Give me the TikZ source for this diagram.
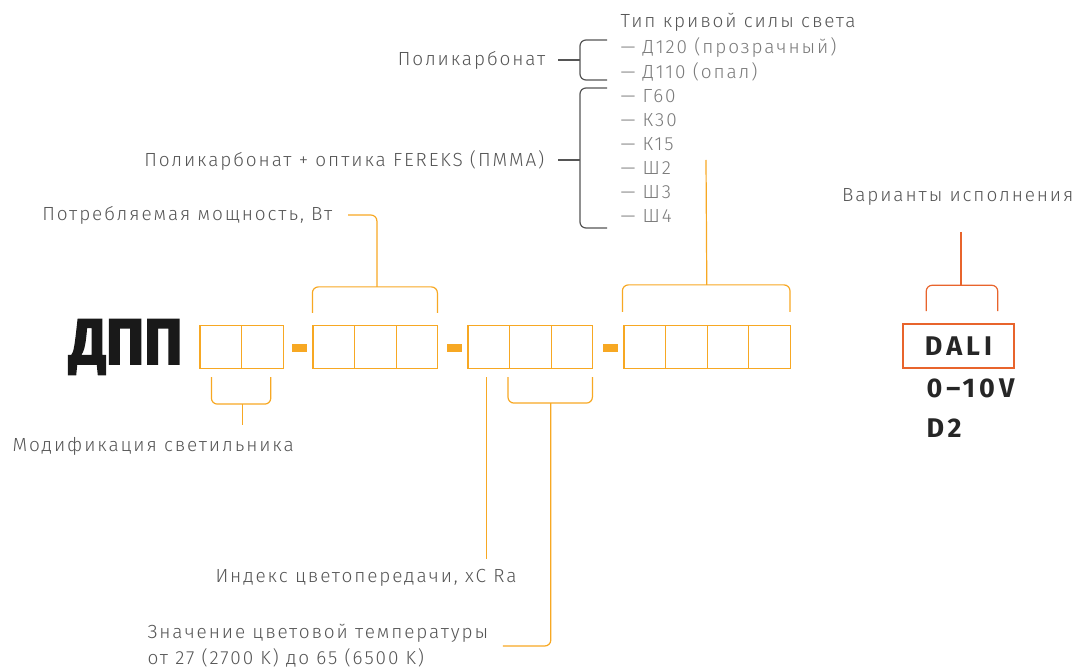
\documentclass[tikz,border=0pt]{standalone}
\usepackage{fontspec}
\setmainfont{Fira Sans Light}[LetterSpace=10]
\newfontfamily\boldfont{Fira Sans Bold}[LetterSpace=15]
\newfontfamily\heavyfont{Fira Sans Bold}[FakeBold=3]
\usetikzlibrary{positioning, calc}
\definecolor{corange}{HTML}{F7A823}
\definecolor{cred}{HTML}{E8642C}
\definecolor{cgrey}{HTML}{555555}
\definecolor{clight}{HTML}{7A7A7A}
\tikzset{
  every picture/.style={line width=1.2pt},
  cell/.style={draw=corange, minimum width=41.6pt, minimum height=43pt, inner sep=0pt},
  sepbar/.style={fill=corange, minimum width=15pt, minimum height=8pt, inner sep=0pt},
  brace/.style={draw=#1, rounded corners=6pt},
  brace/.default=corange,
  oline/.style={draw=corange, rounded corners=6pt},
  lbl/.style={font=\fontsize{19}{26}\selectfont, text=cgrey, inner sep=0pt, align=left},
  curveitem/.style={font=\fontsize{19}{24}\selectfont, text=clight, inner sep=0pt, anchor=west},
  codetext/.style={font=\boldfont\fontsize{27}{30}\selectfont, text=black!85, inner sep=0pt},
}
\begin{document}
\begin{tikzpicture}[x=1pt, y=-1pt]
  \useasboundingbox (0,0) rectangle (1077,668);
  % name of the luminaire
  \node[font=\heavyfont\fontsize{64}{64}\selectfont, text=black!90, inner sep=0pt, xscale=0.9] (dpp) at (126,347) {ДПП};
  % code cells
  \foreach \g/\x/\n in {a/200/2, b/313/3, c/468/3, d/624/4}
    \foreach \i in {1,...,\n}
      \node[cell] (\g\i) at ({\x+(\i-0.5)*41.6},347) {};
  \node[sepbar] (m1) at (299.5,348) {};
  \node[sepbar] (m2) at (454.5,348) {};
  \node[sepbar] (m3) at (610,348) {};
  % labels
  \node[lbl, anchor=west] (lblmod) at (12,446) {Модификация светильника};
  \node[lbl, anchor=east] (lblpow) at (333,215) {Потребляемая мощность, Вт};
  \node[lbl, anchor=center] (lblcri) at (366,578) {Индекс цветопередачи, хС Ra};
  \node[lbl, anchor=west] (lblcct) at (147,646) {Значение цветовой температуры\\от 27 (2700 K) до 65 (6500 K)};
  \node[lbl, anchor=east] (lblpc) at (546,60) {Поликарбонат};
  \node[lbl, anchor=east] (lblopt) at (545,160) {Поликарбонат + оптика FEREKS (ПММА)};
  \node[lbl, anchor=east] (lblvar) at (1074,197) {Варианты исполнения};
  % curve types
  \node[lbl, anchor=west] (kss) at (620,22) {Тип кривой силы света};
  \foreach \t/\y [count=\k] in {Д120 (прозрачный)/47, Д110 (опал)/72, Г60/96, К30/120, К15/144, Ш2/168, Ш3/192, Ш4/216}
    \node[curveitem] (k\k) at (620,\y) {— \t};
  % brackets of the code
  \draw[brace] ($(a1.south west)+(12,8)$) |- ($(a2.south east)+(-13,35)$) -- ++(0,-27);
  \coordinate (ba) at ($(a1.south east)+(0,35)$);
  \draw[oline] (ba) -- ($(ba)+(0,21)$);
  \draw[brace] ($(b1.north west)+(0,-12)$) |- ($(b3.north east)+(-1,-38)$) -- ++(0,26);
  \draw[oline] ($(b2.north)+(1.5,-38)$) |- ([xshift=15pt]lblpow.east);
  \draw[oline] ($(c1.south)+(-2,8)$) -- ($(c1.south)+(-2,190)$);
  \draw[brace] ($(c2.south west)+(-1,8)$) |- ($(c3.south east)+(-1,34)$) -- ++(0,-26);
  \draw[oline] ($(c2.south east)+(-1,34)$) |- ([xshift=14pt]lblcct.east);
  \draw[brace] ($(d1.north west)+(-1,-13)$) |- ($(d4.north east)+(-1,-40)$) -- ++(0,27);
  \coordinate (crv) at (706,160);
  \draw[oline] ($(d2.north east)+(-1,-40)$) -- (crv);
  % brackets of the diffusers
  \draw[brace=cgrey] (607,40) -| (580,80) -- (607,80);
  \draw[cgrey] ([xshift=12pt]lblpc.east) -- (580,60);
  \draw[brace=cgrey] (607,88) -| (580,228) -- (607,228);
  \draw[cgrey] ([xshift=13pt]lblopt.east) -- (580,160);
  % control variants
  \node[codetext, draw=cred, line width=1.5pt, minimum width=111pt, minimum height=44pt] (dali) at (958.5,346) {DALI};
  \node[codetext, anchor=west] (v010) at (926,388) {0–10V};
  \node[codetext, anchor=west] (vd2) at (926,428) {D2};
  \draw[cred] (961,232) -- (961,286);
  \draw[brace=cred] ($(dali.north west)+(24,-12)$) |- ($(dali.north east)+(-17,-38)$) -- ++(0,26);
\end{tikzpicture}
\end{document}
